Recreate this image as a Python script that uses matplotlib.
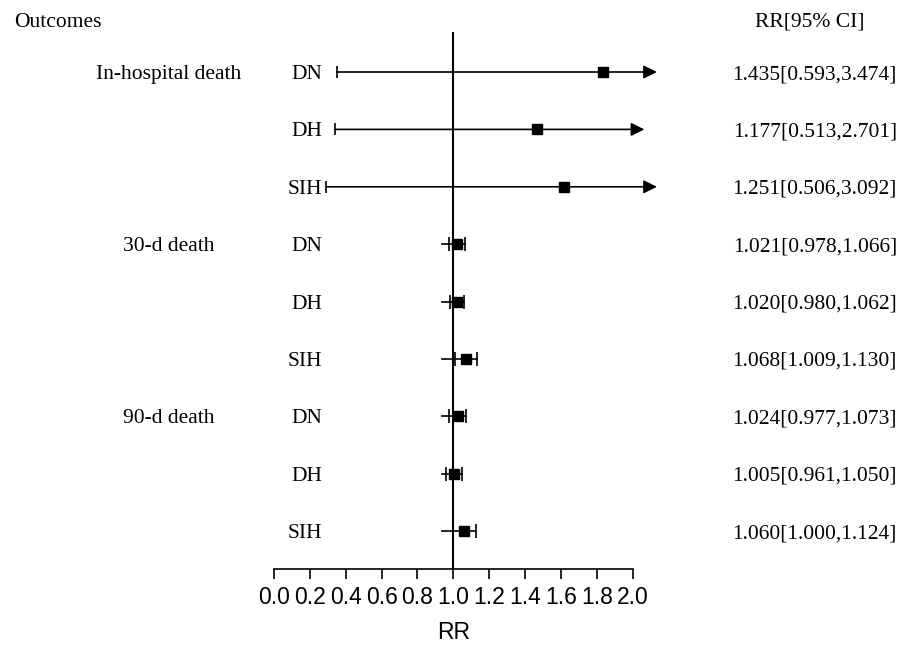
import matplotlib.pyplot as plt
import matplotlib.transforms as mtransforms

# Forest plot: RR for death outcomes by glycaemic group

groups = ["In-hospital death", "", "", "30-d death", "", "", "90-d death", "", ""]
subgroups = ["DN", "DH", "SIH", "DN", "DH", "SIH", "DN", "DH", "SIH"]
rr_text = ["1.435[0.593,3.474]", "1.177[0.513,2.701]", "1.251[0.506,3.092]",
           "1.021[0.978,1.066]", "1.020[0.980,1.062]", "1.068[1.009,1.130]",
           "1.024[0.977,1.073]", "1.005[0.961,1.050]", "1.060[1.000,1.124]"]

# positions as drawn in the figure
est = [1.837, 1.466, 1.618, 1.021, 1.020, 1.068, 1.024, 1.005, 1.060]
lo = [0.352, 0.342, 0.288, 0.978, 0.980, 1.009, 0.977, 0.961, 1.000]
hi = [2.135, 2.065, 2.135, 1.066, 1.062, 1.130, 1.073, 1.050, 1.124]
line_start = [0.352, 0.342, 0.288, 0.935, 0.935, 0.935, 0.935, 0.935, 0.935]
arrow = [True, True, True, False, False, False, False, False, False]

xticks = [0.0, 0.2, 0.4, 0.6, 0.8, 1.0, 1.2, 1.4, 1.6, 1.8, 2.0]

W, H = 901, 646
fig = plt.figure(figsize=(W / 100, H / 100), dpi=100)
ax = fig.add_axes([274 / W, 77 / H, 358.7 / W, 537 / H])

serif = "Liberation Serif"
fs = 15.5
lw = 1.2

ax.axvline(1.0, color="black", lw=1.5, zorder=1)

for i in range(len(est)):
    if arrow[i]:
        ax.annotate("", xy=(hi[i], i), xytext=(line_start[i], i),
                    arrowprops=dict(arrowstyle="-|>", mutation_scale=20,
                                    color="black", lw=lw, shrinkA=0, shrinkB=0),
                    annotation_clip=False)
        ax.plot([lo[i]], [i], marker="|", ms=9, mew=lw, color="black")
    else:
        ax.plot([line_start[i], hi[i]], [i, i], color="black", lw=lw)
        ax.plot([lo[i], hi[i]], [i, i], ls="none", marker="|", ms=10,
                mew=lw, color="black")
    ax.plot([est[i]], [i], marker="s", ms=6.8, color="black", zorder=3)

ax.set_xlim(0, 2.0)
ax.set_ylim(len(est) - 1 + 0.659, -0.697)
ax.set_xticks(xticks)
ax.set_xticklabels([f"{t:.1f}" for t in xticks], fontsize=16.5,
                   family="Liberation Sans")
ax.tick_params(axis="x", length=7, width=lw, pad=5)
ax.set_yticks([])
for s in ["top", "right", "left"]:
    ax.spines[s].set_visible(False)
ax.spines["bottom"].set_linewidth(lw)
ax.set_xlabel("RR", fontsize=16.5, family="Liberation Sans", labelpad=9)

trans = mtransforms.blended_transform_factory(fig.transFigure, ax.transData)
for i in range(len(est)):
    if groups[i]:
        ax.text(169 / W, i, groups[i], transform=trans, ha="center",
                va="center_baseline", fontsize=fs, family=serif)
    ax.text(322 / W, i, subgroups[i], transform=trans, ha="right",
            va="center_baseline", fontsize=fs, family=serif)
    ax.text(897 / W, i, rr_text[i], transform=trans, ha="right",
            va="center_baseline", fontsize=fs, family=serif)

fig.text(14 / W, 1 - 20 / H, "Outcomes", ha="left", va="center_baseline",
         fontsize=fs, family=serif)
fig.text(810 / W, 1 - 20 / H, "RR[95% CI]", ha="center", va="center_baseline",
         fontsize=fs, family=serif)

fig.savefig("out.png", dpi=100)
